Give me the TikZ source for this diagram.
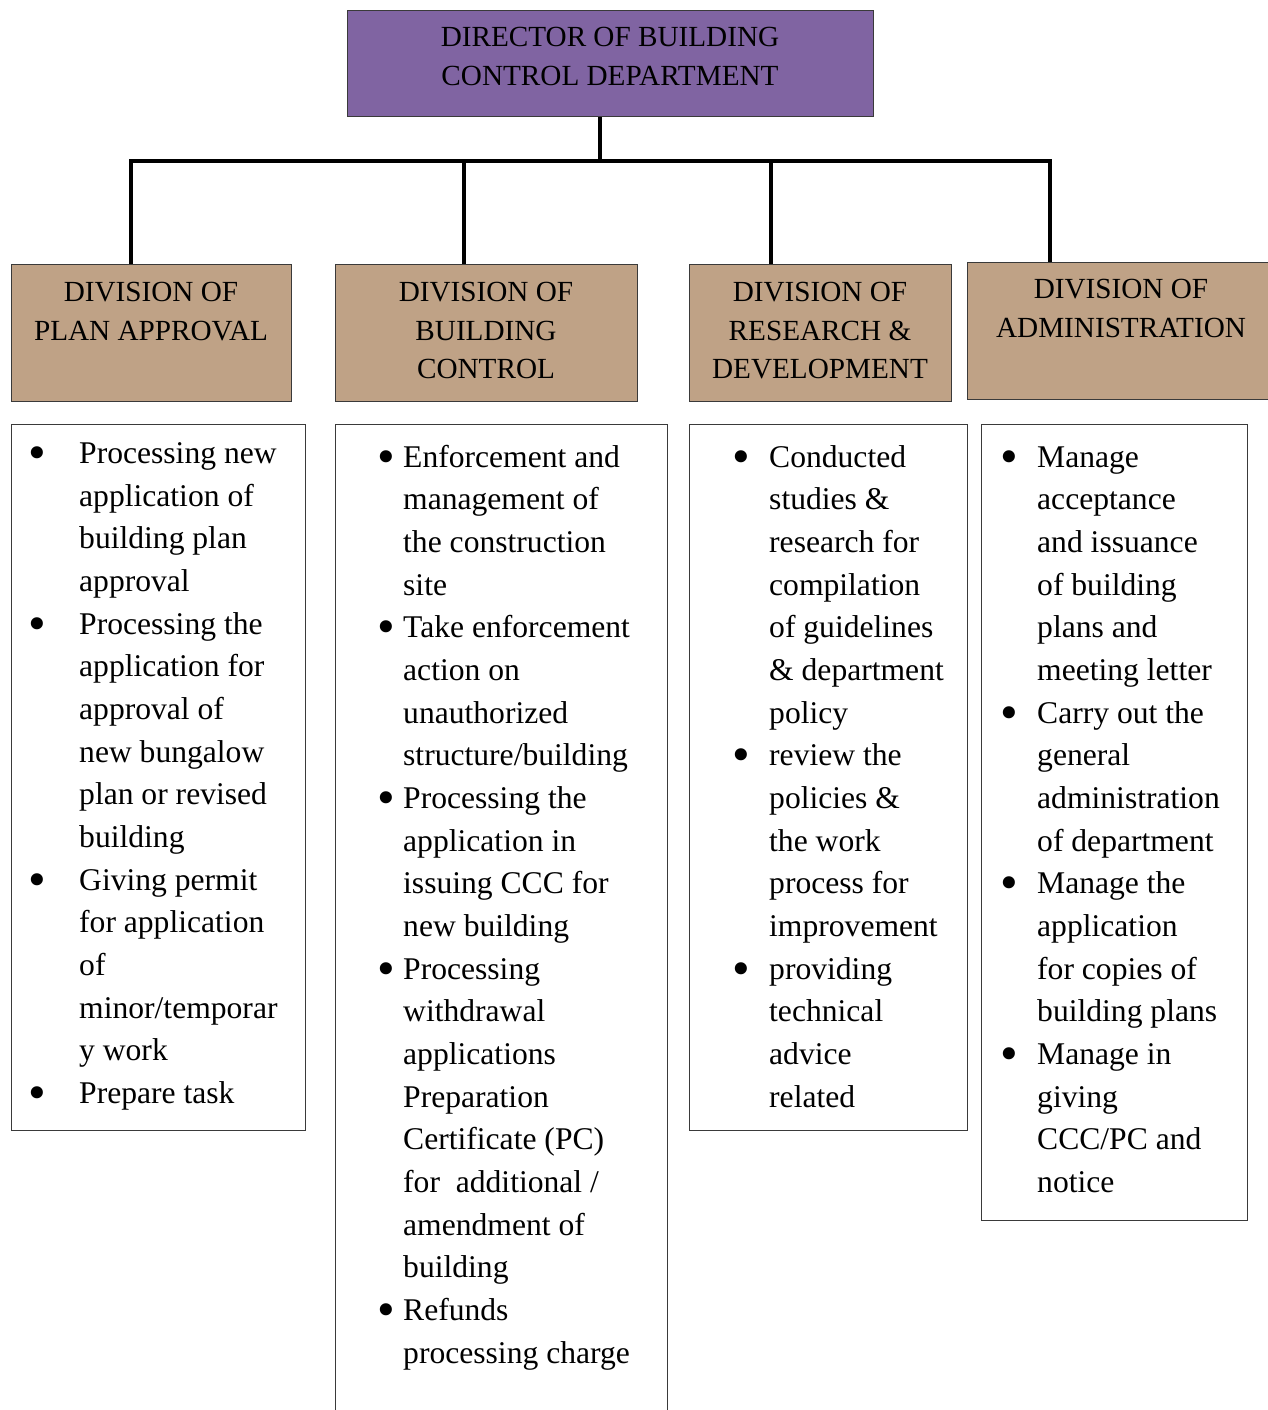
\documentclass[tikz,border=0pt]{standalone}
\usepackage{fontspec}
\setmainfont{Liberation Serif}
\usepackage{array}
\usepackage{graphicx}
\definecolor{dirpurple}{HTML}{8064A2}
\definecolor{divtan}{HTML}{BFA286}
\definecolor{edge}{HTML}{3A3A3A}
% enlarged list bullet, kept centred on the x-height
\newcommand\listbul{\raisebox{-6pt}{\scalebox{1.6}{\textbullet}}}

\begin{document}
\begin{tikzpicture}[x=1pt,y=-1pt,
  box/.style={draw=edge, line width=1.4pt, inner sep=0pt, anchor=north west},
  headbox/.style={box, fill=divtan},
  conn/.style={line width=3.6pt, black, line join=miter},
  headtext/.style={anchor=base, inner sep=0pt, font=\fontsize{29.2}{38.7}\selectfont},
  bodytext/.style={anchor=base west, inner sep=0pt, font=\fontsize{31.6}{42.67}\selectfont}
]
\useasboundingbox (0,0) rectangle (1268,1410);
\clip (0,0) rectangle (1268,1410);

% director
\node[box, fill=dirpurple, minimum width=526pt, minimum height=106pt] (dir) at (347,10) {};
\node[headtext] (dirtext) at (610,46.5)
  {\begin{tabular}[t]{@{}c@{}}DIRECTOR OF BUILDING\\CONTROL DEPARTMENT\end{tabular}};

% division headers
\node[headbox, minimum width=280pt, minimum height=137pt] (pa) at (11,264) {};
\node[headbox, minimum width=302pt, minimum height=137pt] (bc) at (335,264) {};
\node[headbox, minimum width=262pt, minimum height=137pt] (rd) at (689,264) {};
\node[headbox, minimum width=308pt, minimum height=137pt] (ad) at (967,262) {};

\node[headtext] (patext) at (151,301.5)
  {\begin{tabular}[t]{@{}c@{}}DIVISION OF\\PLAN APPROVAL\end{tabular}};
\node[headtext] (bctext) at (486,301.5)
  {\begin{tabular}[t]{@{}c@{}}DIVISION OF\\BUILDING\\CONTROL\end{tabular}};
\node[headtext] (rdtext) at (820,301.5)
  {\begin{tabular}[t]{@{}c@{}}DIVISION OF\\RESEARCH \&\\DEVELOPMENT\end{tabular}};
\node[headtext] (adtext) at (1121,298.5)
  {\begin{tabular}[t]{@{}c@{}}DIVISION OF\\ADMINISTRATION\end{tabular}};

% connectors
\coordinate (bus) at (600,161);
\coordinate (busL) at (131,161);
\coordinate (busR) at (1050,161);
\coordinate (dropB) at (464,161);
\coordinate (dropC) at (771,161);
\draw[conn] (dir.south -| bus) -- (bus);
\draw[conn] (pa.north -| busL) -- (busL) -- (busR) -- (ad.north -| busR);
\draw[conn] (dropB) -- (dropB |- bc.north);
\draw[conn] (dropC) -- (dropC |- rd.north);

% duty boxes
\node[box, minimum width=294pt, minimum height=706pt] (pabody) at (11,424) {};
\node[box, minimum width=332pt, minimum height=1010pt] (bcbody) at (335,424) {};
\node[box, minimum width=278pt, minimum height=706pt] (rdbody) at (689,424) {};
\node[box, minimum width=266pt, minimum height=796pt] (adbody) at (981,424) {};

\node[bodytext] (palist) at (28.65,463.5)
  {\begin{tabular}[t]{@{}c@{\hspace{32.65pt}}l@{}}
  \listbul & Processing new\\
  & application of\\
  & building plan\\
  & approval\\
  \listbul & Processing the\\
  & application for\\
  & approval of\\
  & new bungalow\\
  & plan or revised\\
  & building\\
  \listbul & Giving permit\\
  & for application\\
  & of\\
  & minor/temporar\\
  & y work\\
  \listbul & Prepare task
  \end{tabular}};

\node[bodytext] (bclist) at (377.15,467)
  {\begin{tabular}[t]{@{}c@{\hspace{8.15pt}}l@{}}
  \listbul & Enforcement and\\
  & management of\\
  & the construction\\
  & site\\
  \listbul & Take enforcement\\
  & action on\\
  & unauthorized\\
  & structure/building\\
  \listbul & Processing the\\
  & application in\\
  & issuing CCC for\\
  & new building\\
  \listbul & Processing\\
  & withdrawal\\
  & applications\\
  & Preparation\\
  & Certificate (PC)\\
  & for\ \ additional /\\
  & amendment of\\
  & building\\
  \listbul & Refunds\\
  & processing charge
  \end{tabular}};

\node[bodytext] (rdlist) at (732.15,467)
  {\begin{tabular}[t]{@{}c@{\hspace{19.15pt}}l@{}}
  \listbul & Conducted\\
  & studies \&\\
  & research for\\
  & compilation\\
  & of guidelines\\
  & \& department\\
  & policy\\
  \listbul & review the\\
  & policies \&\\
  & the work\\
  & process for\\
  & improvement\\
  \listbul & providing\\
  & technical\\
  & advice\\
  & related
  \end{tabular}};

\node[bodytext] (adlist) at (1000.15,467)
  {\begin{tabular}[t]{@{}c@{\hspace{19.15pt}}l@{}}
  \listbul & Manage\\
  & acceptance\\
  & and issuance\\
  & of building\\
  & plans and\\
  & meeting letter\\
  \listbul & Carry out the\\
  & general\\
  & administration\\
  & of department\\
  \listbul & Manage the\\
  & application\\
  & for copies of\\
  & building plans\\
  \listbul & Manage in\\
  & giving\\
  & CCC/PC and\\
  & notice
  \end{tabular}};
\end{tikzpicture}
\end{document}
